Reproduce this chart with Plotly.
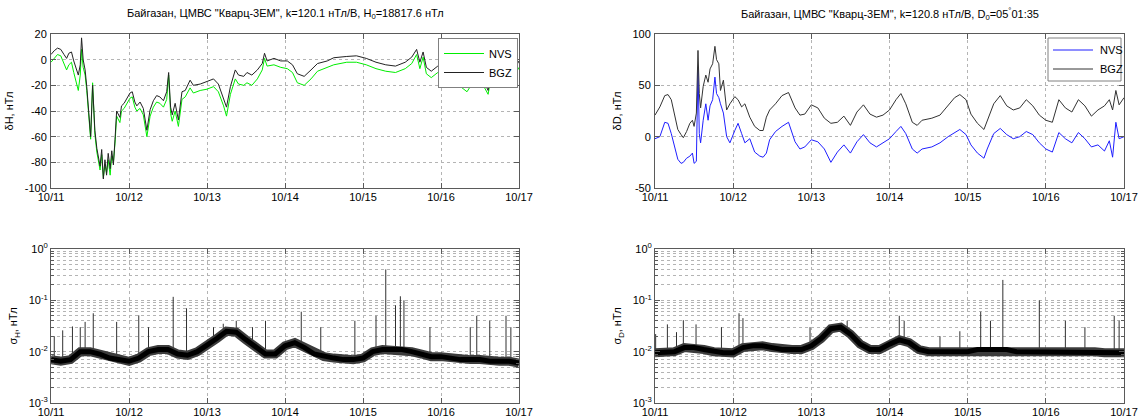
import numpy as np
import plotly.graph_objects as go

# ---------------- data ----------------
day_ticks = [0, 24, 48, 72, 96, 120, 144]
day_labels = ["10/11", "10/12", "10/13", "10/14", "10/15", "10/16", "10/17"]
series_names = ["NVS", "BGZ"]

# delta H (nT) vs hours since 10/11 00:00
H_hours = [0, 1, 2, 3, 4, 4.8, 5.5, 6.3, 7, 7.8, 8.4, 9, 9.4, 9.9, 10.5, 11.0, 11.8, 12.2, 12.8, 13.5,
           14.1, 15.1, 15.6, 16.1, 16.6, 17.1, 17.6, 18.2, 18.7, 19.2, 19.7, 20.2, 21.2, 21.7, 22.5, 23.5,
           24.3, 25, 25.8, 26.4, 27.4, 28.4, 29.5, 30.5, 31.5, 32.5, 33.5, 34.6, 35.6, 36.2, 36.8, 37.3,
           38.2, 39.2, 40.3, 41.3, 42.8, 43.8, 45.9, 48, 50, 51.5, 53.1, 54, 55.2, 56.7, 57.7, 59.3, 60.3,
           61.8, 63.5, 65, 65.7, 66.5, 68.6, 70.7, 72.7, 74.3, 75.8, 77.9, 80, 82, 85, 87, 91, 94, 97, 100,
           103, 106, 109, 111, 112.5, 113.5, 114.5, 115.5, 117, 119, 121, 122, 123, 124.5, 126, 128, 129.5,
           131, 133, 134.5, 135.3, 137, 139, 140.5, 141.5, 142.5, 144]
H_bgz = [4, 7, 9, 8, 4, 1, 5, 6, -1, -8, -12, -4, 17, 0, -8, -21, -44, -60, -20, -55,
         -69, -83, -70, -93, -78, -90, -73, -85, -71, -82, -62, -40, -45, -36, -34, -30,
         -26, -25, -33, -36, -33, -38, -55, -39, -32, -28, -29, -32, -25, -10, -37, -43,
         -34, -47, -25, -24, -16, -20, -19, -17, -15, -19, -30, -37, -21, -8, -12, -13, -10,
         -12, -8, -3, 5, -1, 1, -1, -1, -4, -11, -13, -8, -3, -1, 1.5, 2.5, 3, 1, -2,
         -4, -5, -2, 2, 8, -2, 6, -6, -9, -5, 0, 4, -7, -12, -16, -20, -14,
         -13, -16, -24, -10, -12, -9, -14, -4, -8, -1]
H_nvs = [-2, 1, 4, 3, -3, -8, -4, -2, -10, -18, -24, -12, 8, -6, -12, -24, -46, -62, -18, -58,
         -72, -86, -74, -92, -82, -88, -78, -90, -75, -80, -65, -44, -49, -40, -38, -34,
         -30, -29, -37, -40, -38, -43, -60, -44, -37, -33, -34, -37, -31, -12, -42, -48,
         -40, -52, -31, -29, -22, -26, -24, -23, -21, -25, -36, -44, -27, -15, -19, -20, -18,
         -20, -15, -8, 1, -5, -4, -6, -7, -10, -18, -20, -15, -9, -6, -4, -2, -2, -4, -7,
         -9, -10, -7, -3, 4, -7, 2, -11, -14, -10, -5, -1, -12, -17, -21, -25, -19,
         -18, -20, -27, -15, -17, -14, -18, -9, -13, -6]

# delta D (nT)
D_hours = [0, 1.5, 3, 4, 5, 6, 7, 8, 8.7, 9.7, 10.7, 11.5, 12, 12.7, 13.2, 13.6, 14, 14.8, 15.6, 16.3,
           16.9, 17.7, 18.4, 18.9, 19.6, 20.1, 21, 22, 23, 24.5, 25.5, 26.6, 27.6, 29.1, 30.6, 32.2,
           33.2, 34.2, 35.2, 37, 39, 41, 43, 44.5, 46, 48, 50, 52, 54, 56, 58, 60, 62, 64, 66, 68, 70,
           72, 74, 75.5, 77, 79, 80.5, 82, 85, 87.5, 90, 92, 93.6, 95.5, 97, 99, 101, 102, 104, 106,
           108, 110, 112, 114, 116, 118, 120, 122, 124, 126, 128, 130, 132, 134, 136, 138, 139.5,
           140.5, 141.5, 142.5, 144]
D_bgz = [21, 29, 40, 41, 36, 21, 7, 2, -1, 5, 13, 16, 10, 23, 84, 42, 28, 49, 60, 53,
         66, 71, 88, 75, 71, 45, 55, 26, 32, 39, 36, 29, 32, 19, 10, 6,
         6, 19, 26, 32, 40, 43, 28, 21, 22, 31, 28, 18, 13, 14, 20, 11, 24, 31, 22, 19, 21,
         26, 36, 42, 32, 14, 11, 16, 18, 21, 31, 38, 41, 36, 22, 13, 7, 16, 32, 40,
         30, 26, 28, 36, 30, 21, 16, 14, 36, 28, 24, 36, 30, 20, 26, 30, 36,
         26, 45, 31, 38]
D_nvs = [-2, 0, 14, 13, 3, -10, -22, -26, -25, -21, -19, -16, -26, -24, 68, 3, -6, 16, 32, 16,
         30, 36, 58, 42, 38, 32, 23, 0, -6, 6, 13, 3, -6, -2, -15, -19,
         -20, -16, -3, 5, 10, 14, -5, -12, -10, -3, -5, -12, -25, -15, -8, -16, -5, 2, -6, -10, -6,
         -2, 5, 10, 3, -12, -16, -12, -10, -6, 0, 4, 7, 2, -8, -16, -21, -12, 3, 8,
         2, -2, 0, 5, 2, -6, -12, -15, 4, -2, -6, 4, -2, -10, -8, -14, -4,
         -20, 14, -2, 0]

# sigma H / sigma D (nT): baseline every 3 h plus isolated spikes
S_hours = list(range(0, 145, 3))
SH_base = [7e-3, 6.5e-3, 7e-3, 1.0e-2, 1.0e-2, 9e-3, 7.5e-3, 7e-3, 6.5e-3, 7.5e-3, 1.0e-2, 1.1e-2,
           1.1e-2, 9e-3, 8.5e-3, 1.0e-2, 1.3e-2, 1.8e-2, 2.5e-2, 2.4e-2, 1.7e-2, 1.2e-2, 9e-3,
           9e-3, 1.3e-2, 1.5e-2, 1.2e-2, 9e-3, 8e-3, 7.5e-3, 7e-3, 7e-3, 7.5e-3, 1.0e-2, 1.1e-2,
           1.1e-2, 1.1e-2, 1.0e-2, 9e-3, 8e-3, 8e-3, 7.5e-3, 7e-3, 7e-3, 7e-3, 6.5e-3, 6.5e-3,
           6.5e-3, 6e-3]
SH_spike_hours = [1, 3.6, 6.6, 9, 10.5, 13, 20.2, 27, 30, 37.6, 41.7, 50, 53, 57, 62, 66, 77, 83,
                  93.5, 100, 103, 106, 107.5, 108.6, 116.6, 129, 131, 135, 140, 141.5]
SH_spike_vals = [0.02, 0.026, 0.031, 0.03, 0.038, 0.056, 0.038, 0.051, 0.03, 0.117, 0.07, 0.03,
                 0.035, 0.04, 0.03, 0.04, 0.06, 0.03, 0.04, 0.05, 0.4, 0.08, 0.12, 0.1, 0.03,
                 0.03, 0.05, 0.04, 0.05, 0.03]

SD_base = [9.5e-3, 9.5e-3, 1.0e-2, 1.2e-2, 1.2e-2, 1.1e-2, 1.0e-2, 9.5e-3, 9.5e-3, 1.2e-2, 1.3e-2,
           1.3e-2, 1.2e-2, 1.1e-2, 1.1e-2, 1.1e-2, 1.3e-2, 1.8e-2, 2.8e-2, 3.0e-2, 2.2e-2, 1.4e-2,
           1.1e-2, 1.1e-2, 1.4e-2, 1.7e-2, 1.5e-2, 1.1e-2, 1.0e-2, 1.0e-2, 1.0e-2, 1.0e-2, 1.0e-2,
           1.1e-2, 1.1e-2, 1.1e-2, 1.1e-2, 1.0e-2, 1.0e-2, 1.0e-2, 1.0e-2, 1.0e-2, 1.0e-2, 1.0e-2,
           1.0e-2, 1.0e-2, 9.5e-3, 9.5e-3, 9.5e-3]
SD_spike_hours = [0.2, 3.8, 6.6, 8.7, 12.6, 20.4, 25.8, 27, 47.6, 59, 75, 76.5, 87.5, 93.6, 100,
                  103, 106.8, 118, 126, 132, 141, 142.5]
SD_spike_vals = [0.022, 0.034, 0.024, 0.041, 0.034, 0.03, 0.056, 0.045, 0.03, 0.04, 0.05, 0.04,
                 0.02, 0.025, 0.06, 0.04, 0.25, 0.1, 0.04, 0.03, 0.05, 0.04]

titles = ['Байгазан, ЦМВС "Кварц-3ЕМ", k=120.1 нТл/В, H<sub>0</sub>=18817.6 нТл',
          'Байгазан, ЦМВС "Кварц-3ЕМ", k=120.8 нТл/В, D<sub>0</sub>=05<sup>°</sup>01:35']
ylabels = ["δH, нТл", "δD, нТл", "σ<sub>H</sub>, нТл", "σ<sub>D</sub>, нТл"]

# ---------------- layout geometry ----------------
W, Hh = 1138, 418
def px_x(a, b):
    return [a / W, b / W]
def px_y(top, bot):
    return [1 - bot / Hh, 1 - top / Hh]

FONT = "Liberation Sans, Arial, sans-serif"
AX = "#5a5a5a"
GRID = "#b4b4b4"
TICKSZ = 11
C_H = {"NVS": "#00ee00", "BGZ": "#222222"}
C_D = {"NVS": "#1f1fff", "BGZ": "#333333"}

fig = go.Figure()

# top-left: delta H (plotly legend)
fig.add_trace(go.Scatter(x=H_hours, y=H_nvs, mode="lines", name=series_names[0],
                         line=dict(color=C_H["NVS"], width=1), xaxis="x", yaxis="y"))
fig.add_trace(go.Scatter(x=H_hours, y=H_bgz, mode="lines", name=series_names[1],
                         line=dict(color=C_H["BGZ"], width=1), xaxis="x", yaxis="y"))
# top-right: delta D (legend box drawn below with shapes)
fig.add_trace(go.Scatter(x=D_hours, y=D_nvs, mode="lines", name=series_names[0], showlegend=False,
                         line=dict(color=C_D["NVS"], width=1), xaxis="x2", yaxis="y2"))
fig.add_trace(go.Scatter(x=D_hours, y=D_bgz, mode="lines", name=series_names[1], showlegend=False,
                         line=dict(color=C_D["BGZ"], width=1), xaxis="x2", yaxis="y2"))

def stems(hours, vals, base_hours, base_vals):
    xs, ys = [], []
    for t, v in zip(hours, vals):
        b = float(np.interp(t, base_hours, base_vals))
        xs += [t, t, None]
        ys += [b, v, None]
    return xs, ys

for base, sh, sv, xa, ya in [(SH_base, SH_spike_hours, SH_spike_vals, "x3", "y3"),
                             (SD_base, SD_spike_hours, SD_spike_vals, "x4", "y4")]:
    sx, sy = stems(sh, sv, S_hours, base)
    fig.add_trace(go.Scatter(x=sx, y=sy, mode="lines", line=dict(color="#303030", width=1),
                             showlegend=False, xaxis=xa, yaxis=ya))
    fig.add_trace(go.Scatter(x=S_hours, y=base, mode="lines", line=dict(color="#3c3c3c", width=9),
                             showlegend=False, xaxis=xa, yaxis=ya))
    fig.add_trace(go.Scatter(x=S_hours, y=base, mode="lines", line=dict(color="#000000", width=5),
                             showlegend=False, xaxis=xa, yaxis=ya))

def xax(domain, anchor):
    return dict(domain=domain, anchor=anchor, range=[0, 144], tickvals=day_ticks, ticktext=day_labels,
                showgrid=True, gridcolor=GRID, griddash="dot", gridwidth=1, zeroline=False,
                showline=True, linecolor=AX, linewidth=1, mirror="ticks", ticks="inside",
                ticklen=5, tickcolor=AX, tickfont=dict(family=FONT, size=TICKSZ, color="#000"),
                automargin=False, ticklabeloverflow="allow", ticklabelstandoff=-1)

def yax_lin(domain, anchor, rng, tv, label):
    return dict(domain=domain, anchor=anchor, range=rng, tickvals=tv, ticktext=[str(v) for v in tv],
                showgrid=True, gridcolor=GRID, griddash="dot", gridwidth=1, zeroline=False,
                showline=True, linecolor=AX, linewidth=1, mirror="ticks", ticks="inside",
                ticklen=5, tickcolor=AX, tickfont=dict(family=FONT, size=TICKSZ, color="#000"),
                title=dict(text=label, font=dict(family=FONT, size=11, color="#000"), standoff=8),
                automargin=False, ticklabeloverflow="allow", ticklabelstandoff=1)

log_major = [1e-3, 1e-2, 1e-1, 1]
log_labels = ["10<sup>-3</sup>", "10<sup>-2</sup>", "10<sup>-1</sup>", "10<sup>0</sup>"]
log_minor = [m * 10.0 ** e for e in (-3, -2, -1) for m in range(2, 10)]

def yax_log(domain, anchor, label):
    return dict(domain=domain, anchor=anchor, type="log", range=[-3, 0], tickvals=log_major,
                ticktext=log_labels, showgrid=True, gridcolor=GRID, griddash="dot", gridwidth=1,
                zeroline=False, showline=True, linecolor=AX, linewidth=1, mirror="ticks",
                ticks="inside", ticklen=5, tickcolor=AX,
                tickfont=dict(family=FONT, size=TICKSZ, color="#000"),
                minor=dict(tickvals=log_minor, showgrid=True, gridcolor=GRID, griddash="dot",
                           ticks="inside", ticklen=3, tickcolor=AX),
                title=dict(text=label, font=dict(family=FONT, size=11, color="#000"), standoff=8),
                automargin=False, ticklabeloverflow="allow")

xL, xR = px_x(51, 519), px_x(655, 1124)
yT, yB = px_y(34, 188), px_y(249, 403)

# manual legend box for the right panel (pixel geometry)
LX0, LX1, LY0, LY1 = 1048, 1121, 38, 81
shapes = [dict(type="rect", xref="paper", yref="paper", x0=LX0 / W, x1=LX1 / W,
               y0=1 - LY1 / Hh, y1=1 - LY0 / Hh, line=dict(color="#808080", width=1),
               fillcolor="white", layer="above")]
annotations = []
for i, nm in enumerate(series_names):
    yy = 1 - (LY0 + 12 + 19 * i) / Hh
    shapes.append(dict(type="line", xref="paper", yref="paper", x0=(LX0 + 5) / W, x1=(LX0 + 45) / W,
                       y0=yy, y1=yy, line=dict(color=C_D[nm], width=1), layer="above"))
    annotations.append(dict(text=nm, x=(LX0 + 50) / W, y=yy, xref="paper", yref="paper",
                            showarrow=False, xanchor="left", yanchor="middle",
                            font=dict(family=FONT, size=11, color="#000")))

annotations += [
    dict(text=titles[0], x=(51 + 519) / 2 / W, y=1 - 14 / Hh, xref="paper", yref="paper",
         showarrow=False, xanchor="center", yanchor="middle",
         font=dict(family=FONT, size=11, color="#000")),
    dict(text=titles[1], x=(655 + 1124) / 2 / W, y=1 - 14 / Hh, xref="paper", yref="paper",
         showarrow=False, xanchor="center", yanchor="middle",
         font=dict(family=FONT, size=11, color="#000")),
]

fig.update_layout(
    width=W, height=Hh, margin=dict(l=0, r=0, t=0, b=0),
    paper_bgcolor="white", plot_bgcolor="white",
    xaxis=xax(xL, "y"), yaxis=yax_lin(yT, "x", [-100, 20], [-100, -80, -60, -40, -20, 0, 20], ylabels[0]),
    xaxis2=xax(xR, "y2"), yaxis2=yax_lin(yT, "x2", [-50, 100], [-50, 0, 50, 100], ylabels[1]),
    xaxis3=xax(xL, "y3"), yaxis3=yax_log(yB, "x3", ylabels[2]),
    xaxis4=xax(xR, "y4"), yaxis4=yax_log(yB, "x4", ylabels[3]),
    legend=dict(x=518 / W, y=1 - 38 / Hh, bgcolor="white", bordercolor="#808080", borderwidth=1,
                font=dict(family=FONT, size=11, color="#000"), xanchor="right", yanchor="top",
                tracegroupgap=0, itemwidth=40, traceorder="normal"),
    shapes=shapes,
    annotations=annotations,
)

fig.write_html("out.html")
